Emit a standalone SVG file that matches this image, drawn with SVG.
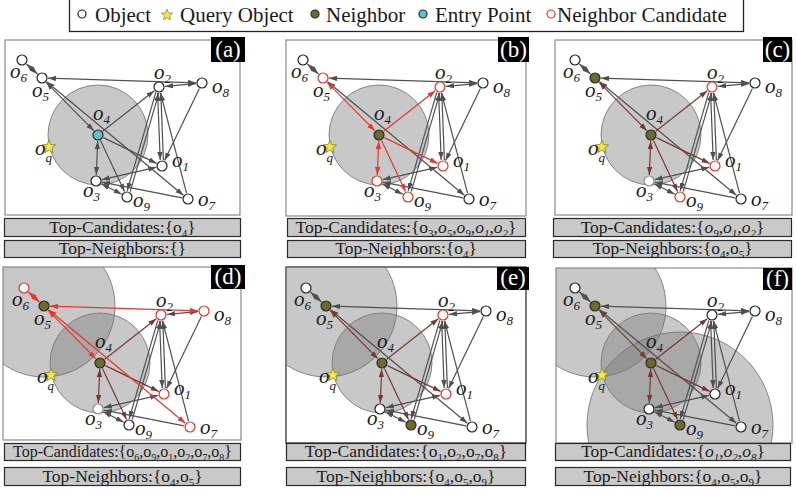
<svg xmlns="http://www.w3.org/2000/svg" xmlns:xlink="http://www.w3.org/1999/xlink" width="796" height="491" viewBox="0 0 796 491" font-family="'Liberation Serif','Times New Roman',serif">
  <style>
    text{font-family:"Liberation Serif","Times New Roman",serif;fill:#1a1a1a}
    .lbl{font-size:21px;font-style:italic}
    .lbl .s{font-size:13px}
    .leg{font-size:21px}
    .bar{fill:#c9c9c9;stroke:#2a2a2a;stroke-width:1.2}
    .bt{font-size:17.5px;text-anchor:middle}
    .bt .s{font-size:11px}
    .bt.sm{font-size:16px}
    .bt.sm .s{font-size:10px}
    .it{font-style:italic}
    .frame{fill:#fff;stroke:#8a8a8a;stroke-width:1.2}
    .tag{fill:#000}
    .tagt{fill:#fff;font-size:23px;text-anchor:middle}
    .range{fill:#7b7b7b;fill-opacity:.42;stroke:#6e6e6e;stroke-width:.8}
    .edges{stroke-width:1.2;fill:none}
    .g1,.g2{stroke:#505050;marker-end:url(#ag)} .g2{marker-start:url(#ag)}
    .r1,.r2{stroke:#e8362c;marker-end:url(#ar)} .r2{marker-start:url(#ar)}
    .b1,.b2{stroke:#7a3832;marker-end:url(#ab)} .b2{marker-start:url(#ab)}
    .n,.nr,.ng,.no,.nc{stroke-width:1.2}
    .n{fill:#fff;stroke:#222}
    .nr{fill:#fff;stroke:#e8302a}
    .ng{fill:#fff;stroke:#8c8c8c}
    .no{fill:#6b6b2c;stroke:#2a2a2a}
    .nc{fill:#5cc3cb;stroke:#2a2a2a}
    .star{fill:#f4e845;stroke:#8f8a2a;stroke-width:.9}
  </style>
  <defs>
    <marker id="ag" viewBox="0 0 8 6" refX="8" refY="3" markerWidth="8" markerHeight="6" markerUnits="userSpaceOnUse" orient="auto-start-reverse"><path d="M0,0.3 L8,3 L0,5.7z" fill="#505050"/></marker>
    <marker id="ar" viewBox="0 0 8 6" refX="8" refY="3" markerWidth="8" markerHeight="6" markerUnits="userSpaceOnUse" orient="auto-start-reverse"><path d="M0,0.3 L8,3 L0,5.7z" fill="#e8362c"/></marker>
    <marker id="ab" viewBox="0 0 8 6" refX="8" refY="3" markerWidth="8" markerHeight="6" markerUnits="userSpaceOnUse" orient="auto-start-reverse"><path d="M0,0.3 L8,3 L0,5.7z" fill="#7a3832"/></marker>
    <polygon id="star" class="star" points="0,-7 1.76,-2.43 6.66,-2.16 2.85,0.93 4.11,5.66 0,3 -4.11,5.66 -2.85,0.93 -6.66,-2.16 -1.76,-2.43"/>
    <!-- graph edges, shared by every panel (panel-local coordinates) -->
    <line id="e1" x1="26.5" y1="64" x2="37.5" y2="74"/>
    <line id="e2" x1="48" y1="78.2" x2="196" y2="82.8"/>
    <line id="e3" x1="165" y1="86.4" x2="196" y2="83.6"/>
    <line id="e4" x1="46.2" y1="82.3" x2="93.8" y2="130.7"/>
    <line id="e5" x1="46.6" y1="81.8" x2="183.4" y2="195.2"/>
    <line id="e6" x1="102.7" y1="131.3" x2="154.3" y2="90.7"/>
    <line id="e7" x1="103.4" y1="137.6" x2="156.6" y2="163.4"/>
    <line id="e8" x1="97.7" y1="141" x2="96.3" y2="175"/>
    <line id="e9" x1="100.5" y1="140.4" x2="124.5" y2="191.6"/>
    <line id="e10a" x1="157.6" y1="93" x2="160.2" y2="160"/>
    <line id="e10b" x1="163.4" y1="160" x2="160.8" y2="93"/>
    <line id="e11a" x1="155.8" y1="92.4" x2="127.2" y2="190.8"/>
    <line id="e11b" x1="130.2" y1="191.6" x2="158.8" y2="93.2"/>
    <line id="e12" x1="186.5" y1="193.2" x2="160.5" y2="92.8"/>
    <line id="e13" x1="199.4" y1="88.4" x2="164.6" y2="160.6"/>
    <line id="e14" x1="156.2" y1="167.3" x2="101.8" y2="179.7"/>
    <line id="e15" x1="101.3" y1="183.7" x2="121.7" y2="194.3"/>
    <line id="e16" x1="182.1" y1="197.8" x2="101.9" y2="182.2"/>
    <!-- node labels -->
    <text id="t-o6" class="lbl" x="10" y="78">o<tspan class="s" dy="4">6</tspan></text>
    <text id="t-o5" class="lbl" x="32" y="97">o<tspan class="s" dy="4">5</tspan></text>
    <text id="t-o2" class="lbl" x="154" y="79">o<tspan class="s" dy="4">2</tspan></text>
    <text id="t-o8" class="lbl" x="212" y="93">o<tspan class="s" dy="4">8</tspan></text>
    <text id="t-o4" class="lbl" x="93" y="120">o<tspan class="s" dy="4">4</tspan></text>
    <text id="t-oq" class="lbl" x="35" y="155">o<tspan class="s" dy="7">q</tspan></text>
    <text id="t-o1" class="lbl" x="172" y="167">o<tspan class="s" dy="4">1</tspan></text>
    <text id="t-o3" class="lbl" x="83" y="197">o<tspan class="s" dy="4">3</tspan></text>
    <text id="t-o9" class="lbl" x="133" y="207">o<tspan class="s" dy="4">9</tspan></text>
    <text id="t-o7" class="lbl" x="198" y="206">o<tspan class="s" dy="4">7</tspan></text>
    <clipPath id="clip-a"><rect x="5" y="40" width="235" height="175"/></clipPath>
    <clipPath id="clip-b"><rect x="5" y="40" width="240" height="176"/></clipPath>
    <clipPath id="clip-c"><rect x="2" y="40" width="237" height="175"/></clipPath>
    <clipPath id="clip-d"><rect x="1" y="39" width="238" height="173"/></clipPath>
    <clipPath id="clip-e"><rect x="2" y="39" width="240" height="176"/></clipPath>
    <clipPath id="clip-f"><rect x="3" y="40" width="236" height="175"/></clipPath>
  </defs>

  <!-- legend -->
  <g id="legend">
    <rect x="69.5" y="-1" width="674" height="32.5" fill="#fff" stroke="#222" stroke-width="1.3"/>
    <circle cx="82" cy="14" r="4" class="n"/>
    <text class="leg" x="95" y="22">Object</text>
    <use href="#star" transform="translate(167,15) scale(.85)"/>
    <text class="leg" x="180" y="22">Query Object</text>
    <circle cx="315" cy="14" r="4" class="no"/>
    <text class="leg" x="326" y="22">Neighbor</text>
    <circle cx="423" cy="14" r="4" class="nc"/>
    <text class="leg" x="435" y="22">Entry Point</text>
    <circle cx="551" cy="14" r="4" class="nr"/>
    <text class="leg" x="557" y="22">Neighbor Candidate</text>
  </g>

  <!-- (a) -->
  <g id="panel-a">
    <g transform="translate(0,0)">
      <rect class="frame" x="5" y="40" width="235" height="175"/>
      <g clip-path="url(#clip-a)"><circle class="range" cx="98" cy="135" r="50"/></g>
      <g id="a-edges" class="edges">
        <use href="#e1" class="g2"/><use href="#e2" class="g2"/><use href="#e3" class="g2"/>
        <use href="#e5" class="g2"/><use href="#e10a" class="g1"/><use href="#e10b" class="g1"/>
        <use href="#e11a" class="g1"/><use href="#e11b" class="g1"/><use href="#e12" class="g1"/>
        <use href="#e13" class="g1"/><use href="#e14" class="g2"/><use href="#e15" class="g2"/>
        <use href="#e16" class="g1"/>
        <use href="#e4" class="g2"/><use href="#e6" class="g1"/><use href="#e7" class="g1"/>
        <use href="#e8" class="g2"/><use href="#e9" class="g1"/>
      </g>
      <g id="a-oq"><use href="#star" x="49" y="147"/><use href="#t-oq"/></g>
      <g id="a-o6"><circle class="n" cx="22" cy="60" r="5"/><use href="#t-o6"/></g>
      <g id="a-o5"><circle class="n" cx="42" cy="78" r="5"/><use href="#t-o5"/></g>
      <g id="a-o2"><circle class="n" cx="159" cy="87" r="5"/><use href="#t-o2"/></g>
      <g id="a-o8"><circle class="n" cx="202" cy="83" r="5"/><use href="#t-o8"/></g>
      <g id="a-o4"><circle class="nc" cx="98" cy="135" r="5"/><use href="#t-o4"/></g>
      <g id="a-o1"><circle class="n" cx="162" cy="166" r="5"/><use href="#t-o1"/></g>
      <g id="a-o3"><circle class="n" cx="96" cy="181" r="5"/><use href="#t-o3"/></g>
      <g id="a-o9"><circle class="n" cx="127" cy="197" r="5"/><use href="#t-o9"/></g>
      <g id="a-o7"><circle class="n" cx="188" cy="199" r="5"/><use href="#t-o7"/></g>
    </g>
    <rect class="tag" x="211" y="37" width="34" height="25"/>
    <text class="tagt" x="228" y="57">(a)</text>
    <rect class="bar" x="4.5" y="218.5" width="236" height="18"/>
    <text class="bt" x="122.5" y="233">Top-Candidates:{o<tspan class="s" dy="4">4</tspan><tspan dy="-4">}</tspan></text>
    <rect class="bar" x="4.5" y="240.5" width="236" height="17"/>
    <text class="bt" x="122.5" y="254">Top-Neighbors:{}</text>
  </g>

  <!-- (b) -->
  <g id="panel-b">
    <g transform="translate(281,0)">
      <rect class="frame" x="5" y="40" width="240" height="176"/>
      <g clip-path="url(#clip-b)"><circle class="range" cx="98" cy="135" r="50"/></g>
      <g id="b-edges" class="edges">
        <use href="#e1" class="g2"/><use href="#e2" class="g2"/><use href="#e3" class="g2"/>
        <use href="#e5" class="g2"/><use href="#e10a" class="g1"/><use href="#e10b" class="g1"/>
        <use href="#e11a" class="g1"/><use href="#e11b" class="g1"/><use href="#e12" class="g1"/>
        <use href="#e13" class="g1"/><use href="#e14" class="g2"/><use href="#e15" class="g2"/>
        <use href="#e16" class="g1"/>
        <use href="#e4" class="r2"/><use href="#e6" class="r1"/><use href="#e7" class="r1"/>
        <use href="#e8" class="r2"/><use href="#e9" class="r1"/>
      </g>
      <g id="b-oq"><use href="#star" x="49" y="147"/><use href="#t-oq"/></g>
      <g id="b-o6"><circle class="n" cx="22" cy="60" r="5"/><use href="#t-o6"/></g>
      <g id="b-o5"><circle class="nr" cx="42" cy="78" r="5"/><use href="#t-o5"/></g>
      <g id="b-o2"><circle class="nr" cx="159" cy="87" r="5"/><use href="#t-o2"/></g>
      <g id="b-o8"><circle class="n" cx="202" cy="83" r="5"/><use href="#t-o8"/></g>
      <g id="b-o4"><circle class="no" cx="98" cy="135" r="5"/><use href="#t-o4"/></g>
      <g id="b-o1"><circle class="nr" cx="162" cy="166" r="5"/><use href="#t-o1"/></g>
      <g id="b-o3"><circle class="nr" cx="96" cy="181" r="5"/><use href="#t-o3"/></g>
      <g id="b-o9"><circle class="nr" cx="127" cy="197" r="5"/><use href="#t-o9"/></g>
      <g id="b-o7"><circle class="n" cx="188" cy="199" r="5"/><use href="#t-o7"/></g>
    </g>
    <rect class="tag" x="498" y="37" width="31" height="25"/>
    <text class="tagt" x="513.5" y="57">(b)</text>
    <rect class="bar" x="287.5" y="218.5" width="238" height="18"/>
    <text class="bt" x="406" y="233">Top-Candidates:{o<tspan class="s" dy="4">3</tspan><tspan dy="-4">,</tspan><tspan class="it">o</tspan><tspan class="s it" dy="4">5</tspan><tspan dy="-4">,</tspan><tspan class="it">o</tspan><tspan class="s it" dy="4">9</tspan><tspan dy="-4">,</tspan><tspan class="it">o</tspan><tspan class="s it" dy="4">1</tspan><tspan dy="-4">,</tspan><tspan class="it">o</tspan><tspan class="s it" dy="4">2</tspan><tspan dy="-4">}</tspan></text>
    <rect class="bar" x="287.5" y="240.5" width="238" height="17"/>
    <text class="bt" x="406" y="254">Top-Neighbors:{o<tspan class="s" dy="4">4</tspan><tspan dy="-4">}</tspan></text>
  </g>

  <!-- (c) -->
  <g id="panel-c">
    <g transform="translate(553,0)">
      <rect class="frame" x="2" y="40" width="237" height="175"/>
      <g clip-path="url(#clip-c)"><circle class="range" cx="98" cy="135" r="50"/></g>
      <g id="c-edges" class="edges">
        <use href="#e1" class="g2"/><use href="#e2" class="g2"/><use href="#e3" class="g2"/>
        <use href="#e5" class="g2"/><use href="#e10a" class="g1"/><use href="#e10b" class="g1"/>
        <use href="#e11a" class="g1"/><use href="#e11b" class="g1"/><use href="#e12" class="g1"/>
        <use href="#e13" class="g1"/><use href="#e14" class="g2"/><use href="#e15" class="g2"/>
        <use href="#e16" class="g1"/>
        <use href="#e4" class="b2"/><use href="#e6" class="b1"/><use href="#e7" class="b1"/>
        <use href="#e8" class="b2"/><use href="#e9" class="b1"/>
      </g>
      <g id="c-oq"><use href="#star" x="49" y="147"/><use href="#t-oq"/></g>
      <g id="c-o6"><circle class="n" cx="22" cy="60" r="5"/><use href="#t-o6"/></g>
      <g id="c-o5"><circle class="no" cx="42" cy="78" r="5"/><use href="#t-o5"/></g>
      <g id="c-o2"><circle class="nr" cx="159" cy="87" r="5"/><use href="#t-o2"/></g>
      <g id="c-o8"><circle class="n" cx="202" cy="83" r="5"/><use href="#t-o8"/></g>
      <g id="c-o4"><circle class="no" cx="98" cy="135" r="5"/><use href="#t-o4"/></g>
      <g id="c-o1"><circle class="nr" cx="162" cy="166" r="5"/><use href="#t-o1"/></g>
      <g id="c-o3"><circle class="ng" cx="96" cy="181" r="5"/><use href="#t-o3"/></g>
      <g id="c-o9"><circle class="nr" cx="127" cy="197" r="5"/><use href="#t-o9"/></g>
      <g id="c-o7"><circle class="n" cx="188" cy="199" r="5"/><use href="#t-o7"/></g>
    </g>
    <rect class="tag" x="763" y="37" width="29" height="25"/>
    <text class="tagt" x="777.5" y="57">(c)</text>
    <rect class="bar" x="553.5" y="218.5" width="238" height="18"/>
    <text class="bt" x="672.5" y="233">Top-Candidates:{<tspan class="it">o</tspan><tspan class="s it" dy="4">9</tspan><tspan dy="-4">,</tspan><tspan class="it">o</tspan><tspan class="s it" dy="4">1</tspan><tspan dy="-4">,</tspan><tspan class="it">o</tspan><tspan class="s it" dy="4">2</tspan><tspan dy="-4">}</tspan></text>
    <rect class="bar" x="553.5" y="240.5" width="238" height="17"/>
    <text class="bt" x="672.5" y="254">Top-Neighbors:{o<tspan class="s" dy="4">4</tspan><tspan dy="-4">,o</tspan><tspan class="s" dy="4">5</tspan><tspan dy="-4">}</tspan></text>
  </g>

  <!-- (d) -->
  <g id="panel-d">
    <g transform="translate(2,228)">
      <rect class="frame" x="1" y="39" width="238" height="173"/>
      <g clip-path="url(#clip-d)">
        <circle class="range" cx="98" cy="135" r="50"/>
        <circle class="range" cx="42" cy="78" r="71"/>
      </g>
      <g id="d-edges" class="edges">
        <use href="#e3" class="g2"/>
        <use href="#e10a" class="g1"/><use href="#e10b" class="g1"/>
        <use href="#e11a" class="g1"/><use href="#e11b" class="g1"/><use href="#e12" class="g1"/>
        <use href="#e13" class="g1"/><use href="#e14" class="g2"/><use href="#e15" class="g2"/>
        <use href="#e16" class="g1"/>
        <use href="#e6" class="b1"/><use href="#e7" class="b1"/>
        <use href="#e8" class="b2"/><use href="#e9" class="b1"/>
        <use href="#e1" class="r2"/><use href="#e2" class="r2"/><use href="#e4" class="r2"/><use href="#e5" class="r2"/>
      </g>
      <g id="d-oq"><use href="#star" x="49" y="147"/><use href="#t-oq"/></g>
      <g id="d-o6"><circle class="nr" cx="22" cy="60" r="5"/><use href="#t-o6"/></g>
      <g id="d-o5"><circle class="no" cx="42" cy="78" r="5"/><use href="#t-o5"/></g>
      <g id="d-o2"><circle class="nr" cx="159" cy="87" r="5"/><use href="#t-o2"/></g>
      <g id="d-o8"><circle class="nr" cx="202" cy="83" r="5"/><use href="#t-o8"/></g>
      <g id="d-o4"><circle class="no" cx="98" cy="135" r="5"/><use href="#t-o4"/></g>
      <g id="d-o1"><circle class="nr" cx="162" cy="166" r="5"/><use href="#t-o1"/></g>
      <g id="d-o3"><circle class="ng" cx="96" cy="181" r="5"/><use href="#t-o3"/></g>
      <g id="d-o9"><circle class="n" cx="127" cy="197" r="5"/><use href="#t-o9"/></g>
      <g id="d-o7"><circle class="nr" cx="188" cy="199" r="5"/><use href="#t-o7"/></g>
    </g>
    <rect class="tag" x="211" y="265" width="34" height="24"/>
    <text class="tagt" x="228" y="284">(d)</text>
    <rect class="bar" x="4.5" y="443.5" width="236" height="17"/>
    <text class="bt sm" x="122.5" y="457">Top-Candidates:{o<tspan class="s" dy="4">6</tspan><tspan dy="-4">,o</tspan><tspan class="s" dy="4">9</tspan><tspan dy="-4">,o</tspan><tspan class="s" dy="4">1</tspan><tspan dy="-4">,o</tspan><tspan class="s" dy="4">2</tspan><tspan dy="-4">,o</tspan><tspan class="s" dy="4">7</tspan><tspan dy="-4">,o</tspan><tspan class="s" dy="4">8</tspan><tspan dy="-4">}</tspan></text>
    <rect class="bar" x="4.5" y="467.5" width="236" height="18"/>
    <text class="bt" x="122.5" y="482">Top-Neighbors:{o<tspan class="s" dy="4">4</tspan><tspan dy="-4">,o</tspan><tspan class="s" dy="4">5</tspan><tspan dy="-4">}</tspan></text>
  </g>

  <!-- (e) -->
  <g id="panel-e">
    <g transform="translate(284,228)">
      <rect class="frame" x="2" y="39" width="240" height="176" style="stroke:#222"/>
      <g clip-path="url(#clip-e)">
        <circle class="range" cx="98" cy="135" r="50"/>
        <circle class="range" cx="42" cy="78" r="71"/>
      </g>
      <g id="e-edges" class="edges">
        <use href="#e1" class="g2"/><use href="#e2" class="g2"/><use href="#e3" class="g2"/>
        <use href="#e5" class="g2"/><use href="#e10a" class="g1"/><use href="#e10b" class="g1"/>
        <use href="#e11a" class="g1"/><use href="#e11b" class="g1"/><use href="#e12" class="g1"/>
        <use href="#e13" class="g1"/><use href="#e14" class="g2"/><use href="#e15" class="g2"/>
        <use href="#e16" class="g1"/>
        <use href="#e4" class="b2"/><use href="#e6" class="b1"/><use href="#e7" class="b1"/>
        <use href="#e8" class="b2"/><use href="#e9" class="b1"/>
      </g>
      <g id="e-oq"><use href="#star" x="49" y="147"/><use href="#t-oq"/></g>
      <g id="e-o6"><circle class="n" cx="22" cy="60" r="5"/><use href="#t-o6"/></g>
      <g id="e-o5"><circle class="no" cx="42" cy="78" r="5"/><use href="#t-o5"/></g>
      <g id="e-o2"><circle class="nr" cx="159" cy="87" r="5"/><use href="#t-o2"/></g>
      <g id="e-o8"><circle class="n" cx="202" cy="83" r="5"/><use href="#t-o8"/></g>
      <g id="e-o4"><circle class="no" cx="98" cy="135" r="5"/><use href="#t-o4"/></g>
      <g id="e-o1"><circle class="nr" cx="162" cy="166" r="5"/><use href="#t-o1"/></g>
      <g id="e-o3"><circle class="n" cx="96" cy="181" r="5"/><use href="#t-o3"/></g>
      <g id="e-o9"><circle class="no" cx="127" cy="197" r="5"/><use href="#t-o9"/></g>
      <g id="e-o7"><circle class="n" cx="188" cy="199" r="5"/><use href="#t-o7"/></g>
    </g>
    <rect class="tag" x="497" y="267" width="32" height="23"/>
    <text class="tagt" x="513" y="285">(e)</text>
    <rect class="bar" x="286.5" y="443.5" width="239" height="17"/>
    <text class="bt" x="406" y="457">Top-Candidates:{o<tspan class="s" dy="4">1</tspan><tspan dy="-4">,o</tspan><tspan class="s" dy="4">2</tspan><tspan dy="-4">,o</tspan><tspan class="s" dy="4">7</tspan><tspan dy="-4">,o</tspan><tspan class="s" dy="4">8</tspan><tspan dy="-4">}</tspan></text>
    <rect class="bar" x="286.5" y="467.5" width="239" height="18"/>
    <text class="bt" x="406" y="482">Top-Neighbors:{o<tspan class="s" dy="4">4</tspan><tspan dy="-4">,o</tspan><tspan class="s" dy="4">5</tspan><tspan dy="-4">,o</tspan><tspan class="s" dy="4">9</tspan><tspan dy="-4">}</tspan></text>
  </g>

  <!-- (f) -->
  <g id="panel-f">
    <g transform="translate(553,228)">
      <rect class="frame" x="3" y="40" width="236" height="175"/>
      <g clip-path="url(#clip-f)">
        <circle class="range" cx="98" cy="135" r="50"/>
        <circle class="range" cx="42" cy="78" r="71"/>
        <circle class="range" cx="127" cy="197" r="93"/>
      </g>
      <g id="f-edges" class="edges">
        <use href="#e1" class="g2"/><use href="#e2" class="g2"/><use href="#e3" class="g2"/>
        <use href="#e5" class="g2"/><use href="#e10a" class="g1"/><use href="#e10b" class="g1"/>
        <use href="#e11a" class="g1"/><use href="#e11b" class="g1"/><use href="#e12" class="g1"/>
        <use href="#e13" class="g1"/><use href="#e14" class="g2"/><use href="#e15" class="g2"/>
        <use href="#e16" class="g1"/>
        <use href="#e4" class="b2"/><use href="#e6" class="b1"/><use href="#e7" class="b1"/>
        <use href="#e8" class="b2"/><use href="#e9" class="b1"/>
      </g>
      <g id="f-oq"><use href="#star" x="49" y="147"/><use href="#t-oq"/></g>
      <g id="f-o6"><circle class="n" cx="22" cy="60" r="5"/><use href="#t-o6"/></g>
      <g id="f-o5"><circle class="no" cx="42" cy="78" r="5"/><use href="#t-o5"/></g>
      <g id="f-o2"><circle class="n" cx="159" cy="87" r="5"/><use href="#t-o2"/></g>
      <g id="f-o8"><circle class="n" cx="202" cy="83" r="5"/><use href="#t-o8"/></g>
      <g id="f-o4"><circle class="no" cx="98" cy="135" r="5"/><use href="#t-o4"/></g>
      <g id="f-o1"><circle class="n" cx="162" cy="166" r="5"/><use href="#t-o1"/></g>
      <g id="f-o3"><circle class="n" cx="96" cy="181" r="5"/><use href="#t-o3"/></g>
      <g id="f-o9"><circle class="no" cx="127" cy="197" r="5"/><use href="#t-o9"/></g>
      <g id="f-o7"><circle class="n" cx="188" cy="199" r="5"/><use href="#t-o7"/></g>
    </g>
    <rect class="tag" x="763" y="268" width="29" height="22"/>
    <text class="tagt" x="777.5" y="286">(f)</text>
    <rect class="bar" x="555.5" y="443.5" width="235" height="17"/>
    <text class="bt" x="673" y="457">Top-Candidates:{<tspan class="it">o</tspan><tspan class="s it" dy="4">1</tspan><tspan dy="-4">,</tspan><tspan class="it">o</tspan><tspan class="s it" dy="4">2</tspan><tspan dy="-4">,</tspan><tspan class="it">o</tspan><tspan class="s it" dy="4">8</tspan><tspan dy="-4">}</tspan></text>
    <rect class="bar" x="555.5" y="467.5" width="235" height="18"/>
    <text class="bt" x="673" y="482">Top-Neighbors:{o<tspan class="s" dy="4">4</tspan><tspan dy="-4">,o</tspan><tspan class="s" dy="4">5</tspan><tspan dy="-4">,o</tspan><tspan class="s" dy="4">9</tspan><tspan dy="-4">}</tspan></text>
  </g>
</svg>
